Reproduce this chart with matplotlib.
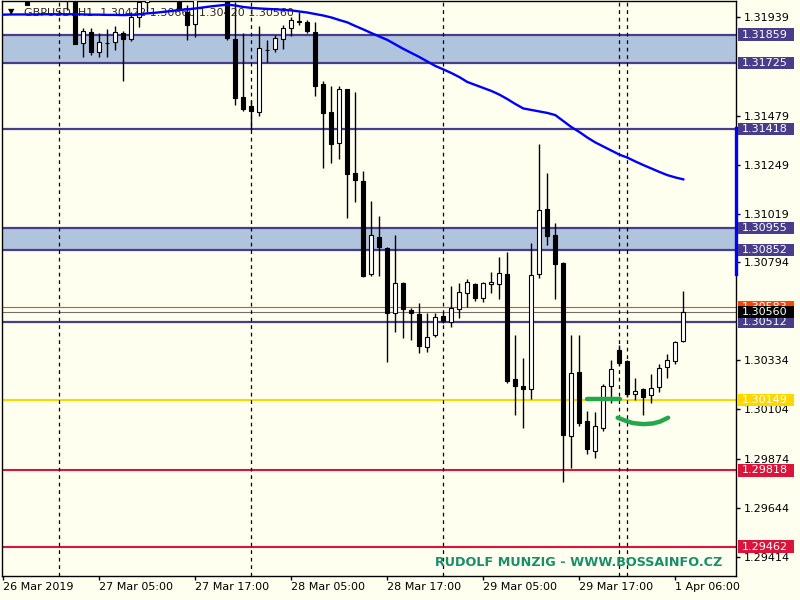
import matplotlib
matplotlib.use('Agg')
import numpy as np
import matplotlib.pyplot as plt
from matplotlib.patches import Rectangle
from matplotlib.transforms import blended_transform_factory

# GBPUSD H1 candles (bars 0..85)
opens = [1.32100, 1.32060, 1.32090, 1.32080, 1.32040, 1.32090, 1.32130, 1.32100, 1.32070, 1.32060,
         1.31820, 1.31871, 1.31777, 1.31820, 1.31824, 1.31866, 1.31838, 1.31941, 1.32012, 1.32050,
         1.32100, 1.32080, 1.32060, 1.31965, 1.31909, 1.32040, 1.32100, 1.32090, 1.32070, 1.31838,
         1.31567, 1.31525, 1.31497, 1.31787, 1.31792, 1.31838, 1.31890, 1.31918, 1.31918, 1.31871,
         1.31628, 1.31497, 1.31351, 1.31604, 1.31211, 1.31173, 1.30738, 1.30911, 1.30860, 1.30555,
         1.30696, 1.30569, 1.30551, 1.30396, 1.30452, 1.30541, 1.30513, 1.30574, 1.30649, 1.30691,
         1.30625, 1.30691, 1.30691, 1.30738, 1.30246, 1.30213, 1.30199, 1.30738, 1.31042, 1.30920,
         1.30789, 1.29979, 1.30279, 1.30049, 1.29909, 1.30017, 1.30213, 1.30382, 1.30330, 1.30176,
         1.30199, 1.30171, 1.30209, 1.30302, 1.30330, 1.30422]
highs = [1.32140, 1.32120, 1.32150, 1.32120, 1.32110, 1.32160, 1.32180, 1.32140, 1.32110, 1.32090,
         1.31890, 1.31890, 1.31866, 1.31885, 1.31899, 1.31876, 1.31965, 1.32030, 1.32080, 1.32120,
         1.32150, 1.32110, 1.32090, 1.31998, 1.32070, 1.32120, 1.32160, 1.32130, 1.32110, 1.32012,
         1.31866, 1.31553, 1.31899, 1.31834, 1.31857, 1.31904, 1.31941, 1.31965, 1.31927, 1.31918,
         1.31642, 1.31618, 1.31618, 1.31606, 1.31590, 1.31220, 1.31080, 1.31009, 1.30864, 1.30920,
         1.30700, 1.30579, 1.30602, 1.30555, 1.30555, 1.30555, 1.30682, 1.30696, 1.30714, 1.30696,
         1.30700, 1.30747, 1.30817, 1.30841, 1.30452, 1.30344, 1.30883, 1.31347, 1.31211, 1.30977,
         1.30794, 1.30452, 1.30452, 1.30096, 1.30092, 1.30223, 1.30335, 1.30405, 1.30335, 1.30251,
         1.30204, 1.30270, 1.30316, 1.30363, 1.30424, 1.30660]
lows = [1.32040, 1.32030, 1.32060, 1.31995, 1.32030, 1.32070, 1.32080, 1.32050, 1.31974, 1.31815,
        1.31754, 1.31763, 1.31754, 1.31754, 1.31787, 1.31642, 1.31829, 1.31895, 1.31965, 1.32030,
        1.32060, 1.32040, 1.31970, 1.31834, 1.31848, 1.32030, 1.32070, 1.32050, 1.31834, 1.31529,
        1.31501, 1.31412, 1.31478, 1.31731, 1.31777, 1.31792, 1.31852, 1.31904, 1.31866, 1.31571,
        1.31234, 1.31258, 1.31276, 1.31000, 1.31075, 1.30724, 1.30728, 1.30728, 1.30326, 1.30466,
        1.30438, 1.30429, 1.30368, 1.30373, 1.30443, 1.30508, 1.30490, 1.30532, 1.30583, 1.30611,
        1.30607, 1.30649, 1.30621, 1.30227, 1.30078, 1.30017, 1.30152, 1.30719, 1.30874, 1.30621,
        1.29764, 1.29829, 1.30026, 1.29895, 1.29876, 1.30003, 1.30134, 1.30312, 1.30162, 1.30148,
        1.30078, 1.30134, 1.30185, 1.30251, 1.30316, 1.30420]
closes = [1.32060, 1.32090, 1.32110, 1.31998, 1.32090, 1.32130, 1.32100, 1.32070, 1.32050, 1.31815,
          1.31876, 1.31777, 1.31824, 1.31818, 1.31871, 1.31838, 1.31941, 1.32012, 1.32050, 1.32100,
          1.32080, 1.32060, 1.31974, 1.31904, 1.32040, 1.32100, 1.32090, 1.32070, 1.31843, 1.31562,
          1.31511, 1.31501, 1.31796, 1.31785, 1.31843, 1.31890, 1.31927, 1.31920, 1.31876, 1.31618,
          1.31492, 1.31347, 1.31604, 1.31206, 1.31178, 1.30728, 1.30920, 1.30864, 1.30555, 1.30696,
          1.30574, 1.30555, 1.30401, 1.30443, 1.30536, 1.30518, 1.30579, 1.30654, 1.30700, 1.30625,
          1.30696, 1.30700, 1.30743, 1.30237, 1.30213, 1.30199, 1.30733, 1.31038, 1.30916, 1.30785,
          1.29984, 1.30274, 1.30040, 1.29918, 1.30026, 1.30213, 1.30293, 1.30321, 1.30176, 1.30190,
          1.30162, 1.30204, 1.30298, 1.30335, 1.30419, 1.30560]

# moving average (blue line)
ma = [1.31952, 1.31953, 1.31953, 1.31953, 1.31953, 1.31954, 1.31954, 1.31954, 1.31954, 1.31954,
      1.31953, 1.31952, 1.31952, 1.31951, 1.31951, 1.31950, 1.31951, 1.31954, 1.31958, 1.31961,
      1.31965, 1.31969, 1.31974, 1.31977, 1.31981, 1.31986, 1.31991, 1.31995, 1.31999, 1.31995,
      1.31988, 1.31984, 1.31981, 1.31979, 1.31977, 1.31975, 1.31972, 1.31967, 1.31962, 1.31955,
      1.31948, 1.31939, 1.31927, 1.31916, 1.31899, 1.31883, 1.31866, 1.31850, 1.31834, 1.31813,
      1.31792, 1.31773, 1.31754, 1.31733, 1.31712, 1.31696, 1.31679, 1.31660, 1.31637, 1.31623,
      1.31609, 1.31595, 1.31578, 1.31557, 1.31534, 1.31513, 1.31506, 1.31499, 1.31492, 1.31482,
      1.31454, 1.31426, 1.31403, 1.31377, 1.31354, 1.31335, 1.31316, 1.31297, 1.31283, 1.31265,
      1.31248, 1.31232, 1.31216, 1.31201, 1.31190, 1.31181]

# day separators (bar index)
separators = [7, 31, 55, 77, 78]

# support / resistance objects
zones = [(1.31725, 1.31859), (1.30852, 1.30955)]
slate_levels = [1.31859, 1.31725, 1.31418, 1.30955, 1.30852, 1.30512]
gold_level = 1.30149
red_levels = [1.29818, 1.29462]
ask_price = 1.30583
bid_price = 1.30560
blue_marker = (1.30738, 1.31422)

# hand drawn green marks (bar index, price)
green_line_x = [73.0, 77.1]
green_line_y = [1.30155, 1.30155]
green_arc_x = [76.8, 77.7, 78.7, 80.0, 81.2, 82.1, 83.1]
green_arc_y = [1.30065, 1.30052, 1.30040, 1.30035, 1.30038, 1.30047, 1.30065]

# axis ticks (the ones hidden under price labels are left out)
ytick_vals = [1.31939, 1.31479, 1.31249, 1.31019, 1.30794,
              1.30334, 1.30104, 1.29874, 1.29644, 1.29414]
xtick_pos = [0, 12, 24, 36, 48, 60, 72, 84]
xtick_labels = ['26 Mar 2019', '27 Mar 05:00', '27 Mar 17:00', '28 Mar 05:00',
                '28 Mar 17:00', '29 Mar 05:00', '29 Mar 17:00', '1 Apr 06:00']

header = 'GBPUSD.,H1  1.30422 1.30660 1.30420 1.30560'
watermark = 'RUDOLF MUNZIG - WWW.BOSSAINFO.CZ'

BG = '#FFFFF0'
SLATE = '#483D8B'
GOLD = '#FFD700'
CRIMSON = '#DC143C'

fig = plt.figure(figsize=(8, 6), dpi=100, facecolor=BG)
ax = fig.add_axes([2/800, 24/600, 734/800, 575/600])
ax.set_facecolor(BG)
ax.set_xlim(-0.16, 91.59)
ax.set_ylim(1.29324, 1.32016)

# zones and lines
for lo, hi in zones:
    ax.axhspan(lo, hi, color='#B0C4DE', lw=0, zorder=1)
for lv in slate_levels:
    ax.axhline(lv, color=SLATE, lw=1.6, zorder=2)
ax.axhline(gold_level, color=GOLD, lw=1.5, zorder=2)
for lv in red_levels:
    ax.axhline(lv, color=CRIMSON, lw=1.5, zorder=2)
ax.axhline(ask_price, color='#FF4500', lw=0.8, zorder=2)
ax.axhline(bid_price, color='#707070', lw=0.8, zorder=2)

for s in separators:
    ax.axvline(s, color='black', lw=0.9, ls=(0, (3, 3)), zorder=2.5)

# candles
idx = np.arange(len(opens))
o = np.array(opens)
c = np.array(closes)
ax.vlines(idx, lows, highs, color='black', lw=1, zorder=3)
bottom = np.minimum(o, c)
height = np.maximum(np.abs(c - o), 0.00003)
face = np.where(c >= o, 'white', 'black')
ax.bar(idx, height, bottom=bottom, width=0.52, color=face,
       edgecolor='black', linewidth=0.8, zorder=4)

# moving average
ax.plot(idx, ma, color='#0000FF', lw=1.7, zorder=5)

# green marks
ax.plot(green_line_x, green_line_y, color='#22A84A', lw=3.2,
        solid_capstyle='round', zorder=6)
ax.plot(green_arc_x, green_arc_y, color='#22A84A', lw=3.2,
        solid_capstyle='round', zorder=6)

# blue marker on the price scale edge
ax.plot([91.59, 91.59], blue_marker, color='#0000FF', lw=2.4,
        clip_on=False, zorder=6)

# axes style
for sp in ax.spines.values():
    sp.set_color('black')
    sp.set_linewidth(1)
ax.yaxis.tick_right()
ax.set_yticks(ytick_vals)
ax.set_yticklabels(['%.5f' % v for v in ytick_vals])
ax.tick_params(axis='y', direction='out', length=3, width=1, pad=2.5,
               labelsize=8, colors='black', left=False)
ax.set_xticks(xtick_pos)
ax.set_xticklabels(xtick_labels)
ax.tick_params(axis='x', direction='out', length=3, width=1, pad=1,
               labelsize=8, colors='black')
for lab in ax.get_xticklabels():
    lab.set_ha('left')

# price labels on the right scale
tr = blended_transform_factory(fig.transFigure, ax.transData)
price_labels = [(ask_price, '#FF4500'), (1.31859, SLATE), (1.31725, SLATE),
                (1.31418, SLATE), (1.30955, SLATE), (1.30852, SLATE),
                (1.30512, SLATE), (gold_level, GOLD), (1.29818, CRIMSON),
                (1.29462, CRIMSON), (bid_price, 'black')]
h = 0.00057
for k, (p, col) in enumerate(price_labels):
    ax.add_patch(Rectangle((738/800, p - h/2), 56/800, h, transform=tr,
                           facecolor=col, edgecolor='none', clip_on=False,
                           zorder=10 + 2*k))
    ax.text(742/800, p, '%.5f' % p, transform=tr, color='white', fontsize=8,
            va='center', ha='left', clip_on=False, zorder=11 + 2*k)

# header and watermark
fig.text(11/800, 1 - 12/600, '\u25BC', fontsize=6, color='black',
         ha='center', va='center')
ax.text(22/734, 1 - 12/575, header, transform=ax.transAxes, fontsize=8,
        color='#302818', ha='left', va='center', zorder=3.5)
ax.text(433/734, 1 - 562/575, watermark, transform=ax.transAxes, fontsize=9.2,
        fontweight='bold', color='#178F6B', ha='left', va='center', zorder=7)

fig.savefig('out.png', dpi=100, facecolor=BG)
